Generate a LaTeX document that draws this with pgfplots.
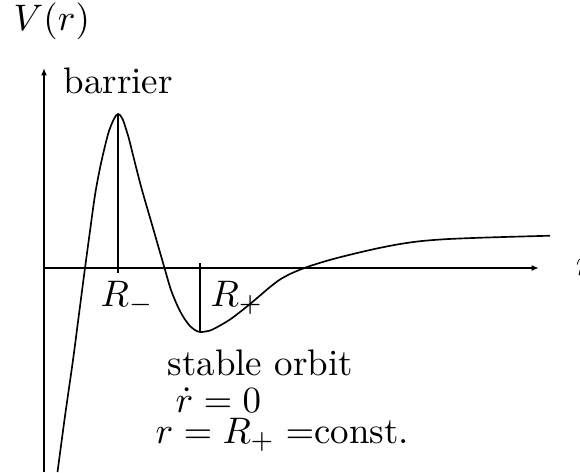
\documentclass[border=0pt]{standalone}
\usepackage{pgfplots}
\pgfplotsset{compat=1.18}
\usetikzlibrary{arrows.meta}
\begin{document}
\begin{tikzpicture}
\begin{axis}[
  x=0.2707pt, y=0.2707pt,
  axis lines=middle,
  enlargelimits=false,
  xmin=0, xmax=495, ymin=-204, ymax=200,
  xtick=\empty, ytick=\empty,
  clip=false,
  axis line style={line width=0.4pt, -{Latex[length=2pt,width=1.6pt]}},
]
% effective potential V(r)
\addplot[black, line width=0.45pt, smooth, tension=0.5] coordinates {
  (13.5,-204) (21,-148) (29,-92) (35,-46) (41,0) (46,37) (51,73)
  (56,100) (61,122) (65,137) (69,147) (72,152.5) (74,154) (76,153)
  (79,148) (82,139) (85,129) (91,105) (98,78) (109,40) (120.5,0)
  (127,-22) (134,-39) (140,-50) (146,-58) (151,-62) (156,-64)
  (166,-62.5) (176,-57.5) (186,-51.5) (196,-44) (206,-36) (216,-27.5)
  (226,-19) (236,-11.5) (246,-6) (256,-1.7) (266,2) (281,6.7)
  (296,10.8) (316,15.7) (336,20.2) (356,24) (376,26.8) (401,28.8)
  (431,30.1) (466,31.2) (506,32.3)
};
% markers at the extrema R_- and R_+
\addplot[black, line width=0.4pt] coordinates {(74,154) (74,-4.5)};
\addplot[black, line width=0.4pt] coordinates {(156,5) (156,-64)};

\node[anchor=base west, inner sep=0] at (axis cs:-31,238) {$V(r)$};
\node[anchor=base west, inner sep=0] at (axis cs:531,-7) {$r$};
\node[anchor=base west, inner sep=0] at (axis cs:19,175) {barrier};
\node[anchor=base west, inner sep=0] at (axis cs:56,-38) {$R_-$};
\node[anchor=base west, inner sep=0] at (axis cs:166,-38) {$R_+$};
\node[anchor=base west, inner sep=0] at (axis cs:123,-107) {stable orbit};
\node[anchor=base west, inner sep=0] at (axis cs:131,-144) {$\dot r = 0$};
\node[anchor=base west, inner sep=0] at (axis cs:111,-175) {$r = R_+ =$const.};

\coordinate (bl) at (axis cs:-44,-204);
\coordinate (tr) at (axis cs:536,268);
\end{axis}
\pgfresetboundingbox
\useasboundingbox (bl) rectangle (tr);
\end{tikzpicture}
\end{document}
